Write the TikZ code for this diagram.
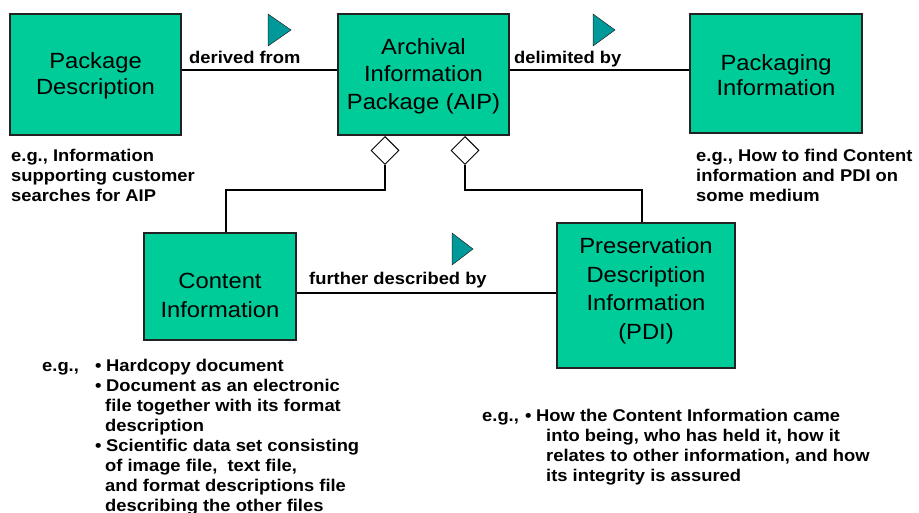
\documentclass[tikz,border=0pt]{standalone}
\usepackage{fontspec}
\setmainfont[FakeStretch=1.08]{Liberation Sans}
\usetikzlibrary{shapes.geometric}
\definecolor{boxgreen}{HTML}{00CC99}
\definecolor{teal}{HTML}{009999}
\definecolor{edge}{HTML}{222222}
\tikzset{
  box/.style={draw=edge, line width=1.1pt, fill=boxgreen, inner sep=0pt},
  boxtext/.style={align=center, inner sep=0pt, font=\fontsize{22}{27}\selectfont},
  conn/.style={draw=black, line width=1.3pt},
  agg/.style={shape=diamond, draw=black, line width=0.9pt, fill=white, inner sep=0pt, minimum width=28pt, minimum height=28pt},
  dirmark/.style={fill=teal, draw=edge, line width=0.5pt},
  rel/.style={inner sep=0pt, anchor=base west, font=\fontsize{17}{20}\selectfont\bfseries},
  note/.style={inner sep=0pt, anchor=base west, align=left, font=\fontsize{17}{20}\selectfont\bfseries},
}
\newcommand{\bul}{\makebox[11pt][l]{•}}
\begin{document}
\begin{tikzpicture}[x=1pt,y=-1pt]
\useasboundingbox (0,0) rectangle (919,513);
% boxes
\node[box, minimum width=171pt, minimum height=121pt] (pd) at (95.5,74.5) {};
\node[box, minimum width=171pt, minimum height=121pt] (aip) at (423.5,74.5) {};
\node[box, minimum width=172pt, minimum height=119pt] (pi) at (776,73.5) {};
\node[box, minimum width=152pt, minimum height=107pt] (ci) at (220,286.5) {};
\node[box, minimum width=178pt, minimum height=145pt] (pdi) at (646,295.5) {};
% box texts
\node[boxtext, font=\fontsize{22}{25.5}\selectfont] (pdt) at (95.5,76) {Package\\Description};
\node[boxtext, font=\fontsize{22}{27.5}\selectfont] (aipt) at (423.5,76) {Archival\\Information\\Package (AIP)};
\node[boxtext, font=\fontsize{22}{25.5}\selectfont] (pit) at (776,75) {Packaging\\Information};
\node[boxtext, font=\fontsize{22}{29}\selectfont] (cit) at (220,295) {Content\\Information};
\node[boxtext, font=\fontsize{22}{28.5}\selectfont] (pdit) at (646,291) {Preservation\\Description\\Information\\(PDI)};
% helper coordinates
\coordinate (r1) at (0,70);
\coordinate (r2) at (0,293);
\coordinate (j1) at (226,190);
\coordinate (j2) at (642,190);
% relations
\draw[conn] (pd.east |- r1) -- (aip.west |- r1);
\draw[conn] (aip.east |- r1) -- (pi.west |- r1);
\draw[conn] (ci.east |- r2) -- (pdi.west |- r2);
% aggregation diamonds
\node[agg, anchor=north] (d1) at (385,136) {};
\node[agg, anchor=north] (d2) at (465,136) {};
\draw[conn] (d1.south) |- (j1) -- (j1 |- ci.north);
\draw[conn] (d2.south) |- (j2) -- (j2 |- pdi.north);
% direction triangles
\draw[dirmark] (268,14) -- (291,30) -- (268,46) -- cycle;
\draw[dirmark] (593,14) -- (615,30) -- (593,46) -- cycle;
\draw[dirmark] (452,233) -- (473,249) -- (452,265) -- cycle;
% relation labels
\node[rel] (l1) at (189,64) {derived from};
\node[rel] (l2) at (514,64) {delimited by};
\node[rel] (l3) at (309,285) {further described by};
% notes (base anchor = baseline of the last line)
\node[note] (n1) at (11,202) {e.g., Information\\supporting customer\\searches for AIP};
\node[note] (n2) at (696,202) {e.g., How to find Content\\information and PDI on\\some medium};
\node[note] (n3a) at (42,371) {e.g.,};
\node[note] (n3) at (95,511) {\bul Hardcopy document\\
\bul Document as an electronic\\
\hspace*{10pt}file together with its format\\
\hspace*{10pt}description\\
\bul Scientific data set consisting\\
\hspace*{10pt}of image file,\ \ text file,\\
\hspace*{10pt}and format descriptions file\\
\hspace*{10pt}describing the other files};
\node[note] (n4a) at (482,421) {e.g.,};
\node[note] (n4) at (525,481) {\bul How the Content Information came\\
\hspace*{21pt}into being, who has held it, how it\\
\hspace*{21pt}relates to other information, and how\\
\hspace*{21pt}its integrity is assured};
\end{tikzpicture}
\end{document}
